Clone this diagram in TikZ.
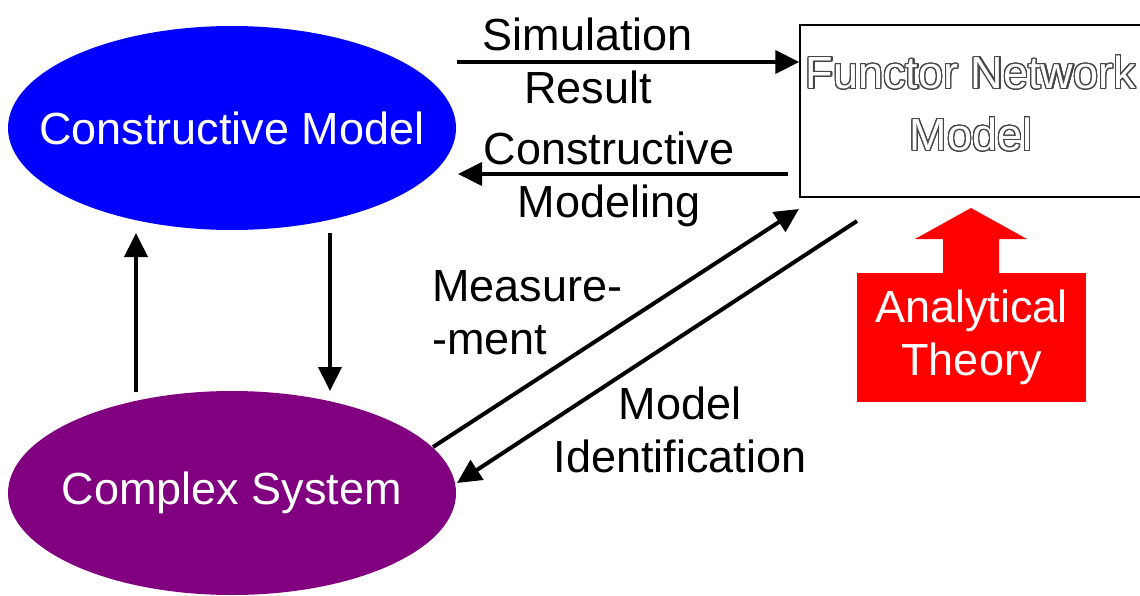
\documentclass[tikz,border=0pt]{standalone}
\usepackage{fontspec}
\setmainfont{Liberation Sans}
\usepackage[copies]{contour}
\contourlength{0.6pt}
\contournumber{24}
\usetikzlibrary{arrows.meta,shapes.geometric}
\definecolor{cmblue}{RGB}{0,0,255}
\definecolor{cspurple}{RGB}{128,0,128}
\definecolor{atred}{RGB}{255,0,0}
\definecolor{outlinegray}{RGB}{70,70,70}
\begin{document}
\begin{tikzpicture}[x=0.5pt,y=-0.5pt,
  lbl/.style={font=\fontsize{22.5}{26.5}\selectfont, align=center, inner sep=0pt},
  arr/.style={line width=2pt, -{Triangle[length=12pt,width=11.5pt]}},
  ell/.style={ellipse, minimum width=224pt, minimum height=102pt, inner sep=0pt,
              text=white, font=\fontsize{22.5}{26.5}\selectfont}]
\clip (0,0) rectangle (1140,595);
\fill[white] (0,0) rectangle (1140,595);

% ellipses
\node[ell, fill=cmblue] (cm) at (232,128) {\makebox[0pt]{Constructive Model}};
\node[ell, fill=cspurple] (cs) at (232,493) {\makebox[0pt]{Complex System}};

% functor network box
\node[draw, line width=0.7pt, minimum width=175pt, minimum height=86pt, inner sep=0pt] (fnm) at (975,111) {};
\node[font=\fontsize{22.5}{31}\selectfont, align=center, inner sep=0pt, text=white] (fnmtext) at (971,104)
  {\contour{outlinegray}{Functor Network}\\\contour{outlinegray}{Model}};

% analytical theory block arrow
\fill[atred] (943,274) -- (943,239) -- (915,239) -- (971,208) -- (1027,239)
  -- (999,239) -- (999,274) -- cycle;
\node[fill=atred, minimum width=114.5pt, minimum height=64.5pt, inner sep=0pt, text=white,
      font=\fontsize{22.5}{26.5}\selectfont, align=center] (at) at (971.5,337.5) {Analytical\\Theory};

% coordinates for free ends
\coordinate (s1) at (457,62);
\coordinate (c1) at (788,174);
\coordinate (c2) at (458,174);
\coordinate (u1) at (136,392);
\coordinate (u2) at (136,233);
\coordinate (d1) at (330,233);
\coordinate (d2) at (330,391);
\coordinate (m1) at (433,447);
\coordinate (m2) at (799,209);
\coordinate (i1) at (857,221);
\coordinate (i2) at (457,483);

% connectors
\draw[arr] (s1) -- (fnm.west |- s1);
\draw[arr] (c1) -- (c2);
\draw[arr] (u1) -- (u2);
\draw[arr] (d1) -- (d2);
\draw[arr] (m1) -- (m2);
\draw[arr] (i1) -- (i2);

% labels
\node[lbl] (simres) at (588,61) {Simulation\\Result};
\node[lbl] (conmod) at (609,179) {Constructive\\Modeling};
\node[lbl, align=left, anchor=west] (meas) at (432,313) {Measure-\\-ment};
\node[lbl] (modid) at (680,430) {Model\\Identification};
\end{tikzpicture}
\end{document}
